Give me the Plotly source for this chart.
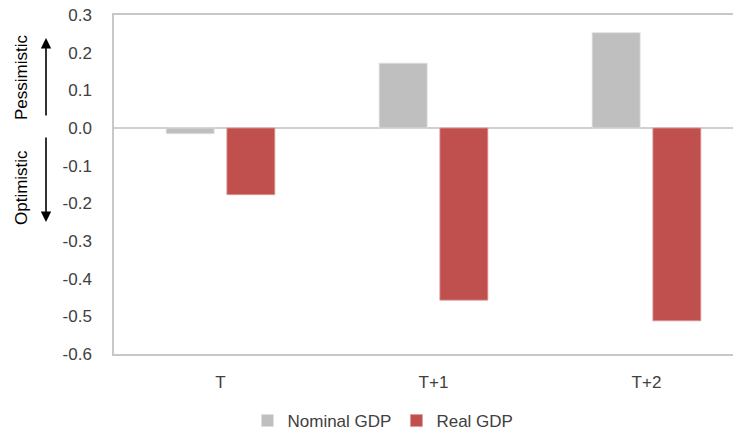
import plotly.graph_objects as go

categories = ["T", "T+1", "T+2"]
nominal_gdp = [-0.015, 0.172, 0.253]
real_gdp = [-0.177, -0.457, -0.512]
y_ticks = [0.3, 0.2, 0.1, 0.0, -0.1, -0.2, -0.3, -0.4, -0.5, -0.6]

# page body has an 8px margin, so the figure is drawn offset by OFF px
OFF = 8
W, H = 741 - OFF, 432 - OFF
L, R, T, B = 114 - OFF, 0, 15 - OFF, 432 - 354
pw, ph = W - L - R, H - T - B

def px(x):
    return (x - OFF - L) / pw

def py(y):
    return (H - B - (y - OFF)) / ph

FONT = "Liberation Sans"
TXT = "#404040"

fig = go.Figure()
fig.add_trace(go.Bar(name="Nominal GDP", x=categories, y=nominal_gdp,
                     marker=dict(color="#bfbfbf", line=dict(color="#e0e0e0", width=0.8))))
fig.add_trace(go.Bar(name="Real GDP", x=categories, y=real_gdp,
                     marker=dict(color="#c0504d", line=dict(color="#e09a98", width=0.8))))

fig.update_layout(
    width=W, height=H,
    margin=dict(l=L, r=R, t=T, b=B, autoexpand=False),
    paper_bgcolor="white", plot_bgcolor="white",
    barmode="group", bargap=0.43, bargroupgap=0.21,
    font=dict(family=FONT, size=17, color=TXT),
    showlegend=True,
    legend=dict(orientation="h", x=px(383), xanchor="center", y=py(421), yanchor="middle",
                font=dict(size=17, color=TXT), itemwidth=30, traceorder="normal"),
    xaxis=dict(range=[-0.5, -0.5 + pw / 213.0], showline=True, linecolor="#c8c8c8", linewidth=1.5,
               mirror=True, ticks="", showgrid=False, tickfont=dict(size=17, color=TXT),
               ticklabelstandoff=12, ticklabeloverflow="allow"),
    yaxis=dict(range=[-0.6, 0.3], tickvals=y_ticks, ticktext=[f"{v:.1f}" for v in y_ticks],
               showline=True, linecolor="#c8c8c8", linewidth=1.5, mirror=False,
               showgrid=False, zeroline=True, zerolinecolor="#d0d0d0", zerolinewidth=1.5,
               ticks="", tickfont=dict(size=17, color=TXT), ticklabelstandoff=17,
               ticklabeloverflow="allow"),
)

# Direction labels and arrows
fig.add_annotation(xref="paper", yref="paper", x=px(21), y=py(77), text="Pessimistic",
                   xanchor="center", yanchor="middle",
                   textangle=-90, showarrow=False, font=dict(size=17, color="black"))
fig.add_annotation(xref="paper", yref="paper", x=px(21), y=py(188), text="Optimistic",
                   xanchor="center", yanchor="middle",
                   textangle=-90, showarrow=False, font=dict(size=17, color="black"))
fig.add_annotation(xref="paper", yref="paper", x=px(46), y=py(38), ax=0, ay=79,
                   axref="pixel", ayref="pixel", text="", showarrow=True,
                   arrowhead=2, arrowsize=1.3, arrowwidth=1.6, arrowcolor="black")
fig.add_annotation(xref="paper", yref="paper", x=px(46), y=py(222), ax=0, ay=-86,
                   axref="pixel", ayref="pixel", text="", showarrow=True,
                   arrowhead=2, arrowsize=1.3, arrowwidth=1.6, arrowcolor="black")

fig.write_html("out.html")
